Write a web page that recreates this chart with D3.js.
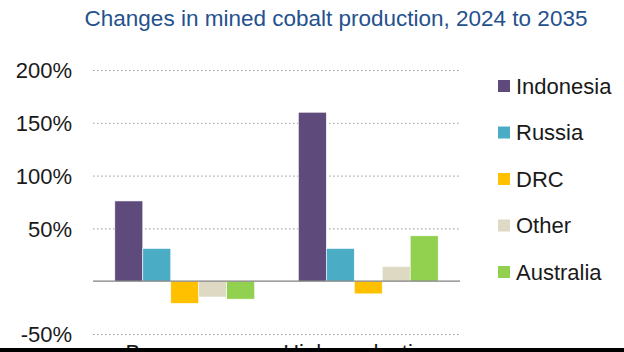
<!DOCTYPE html>
<html>
<head>
<meta charset="utf-8">
<style>
body { margin: 0; background: #fff; }
svg { display: block; font-family: "Liberation Sans", Arial, sans-serif; }
.grid line { stroke: #9a9a9a; stroke-dasharray: 1.5 2.5; }
.axis-y text { font-size: 22px; fill: #1a1a1a; }
.legend text { font-size: 22px; fill: #1a1a1a; }
</style>
</head>
<body>

<svg id="chart" width="624" height="352"></svg>

<script src="https://d3js.org/d3.v7.min.js"></script>
<script>

var groups = ["Base case", "High production"];
var series = ["Indonesia", "Russia", "DRC", "Other", "Australia"];
var colors = ["#5e4a7b", "#4bacc6", "#ffc000", "#ddd9c3", "#92d050"];
var baseCase = [76, 31, -21, -15, -17];
var highProduction = [160, 31, -12, 14, 43];
var yTicks = [-50, 50, 100, 150, 200];

var values = [baseCase, highProduction];
var data = [];
groups.forEach(function(g, i) {
    series.forEach(function(s, j) {
        data.push({group: g, series: s, value: values[i][j]});
    });
});

var svg = d3.select("#chart");

// title
svg.append("text")
    .attr("x", 336)
    .attr("y", 26)
    .attr("text-anchor", "middle")
    .style("font-size", "22.5px")
    .style("fill", "#25518d")
    .text("Changes in mined cobalt production, 2024 to 2035");

var x0 = d3.scaleBand()
    .domain(groups)
    .range([93, 460])
    .padding(0);

var x1 = d3.scaleBand()
    .domain(series)
    .range([0, x0.bandwidth()])
    .paddingInner(0)
    .paddingOuter(0.78);

var y = d3.scaleLinear()
    .domain([-50, 200])
    .range([334, 70]);

var color = d3.scaleOrdinal().domain(series).range(colors);

// gridlines
svg.append("g")
    .attr("class", "grid")
    .selectAll("line")
    .data(yTicks)
    .enter()
    .append("line")
    .attr("x1", 93)
    .attr("x2", 460)
    .attr("y1", function(d) { return y(d) + 0.5; })
    .attr("y2", function(d) { return y(d) + 0.5; });

// y axis labels
var yAxis = svg.append("g")
    .attr("class", "axis-y")
    .attr("transform", "translate(80,0)")
    .call(d3.axisLeft(y).tickValues(yTicks).tickSize(0).tickPadding(8)
        .tickFormat(function(d) { return d + "%"; }));
yAxis.select(".domain").remove();
yAxis.selectAll("text").attr("dy", "0.35em");

// bars
svg.append("g")
    .selectAll("rect")
    .data(data)
    .enter()
    .append("rect")
    .attr("x", function(d) { return x0(d.group) + x1(d.series); })
    .attr("y", function(d) { return y(Math.max(0, d.value)); })
    .attr("width", x1.bandwidth())
    .attr("height", function(d) { return Math.abs(y(d.value) - y(0)); })
    .attr("fill", function(d) { return color(d.series); })
    .attr("stroke", "#fff")
    .attr("stroke-width", 0.6);

// zero line
svg.append("line")
    .attr("x1", 93)
    .attr("x2", 460)
    .attr("y1", y(0))
    .attr("y2", y(0))
    .attr("stroke", "#808080")
    .attr("stroke-width", 1.2);

// category labels (mostly cut off at the bottom)
svg.append("g")
    .selectAll("text")
    .data(groups)
    .enter()
    .append("text")
    .attr("x", function(d) { return x0(d) + x0.bandwidth() / 2 - 8; })
    .attr("y", 360)
    .attr("text-anchor", "middle")
    .style("font-size", "22px")
    .style("fill", "#1a1a1a")
    .text(function(d) { return d; });

// legend
var legend = svg.append("g")
    .attr("class", "legend")
    .selectAll("g")
    .data(series)
    .enter()
    .append("g")
    .attr("transform", function(d, i) { return "translate(498," + (86 + i * 46.5) + ")"; });

legend.append("rect")
    .attr("x", 0)
    .attr("y", -6)
    .attr("width", 12)
    .attr("height", 12)
    .attr("fill", function(d) { return color(d); });

legend.append("text")
    .attr("x", 18)
    .attr("y", 0)
    .attr("dy", "0.35em")
    .text(function(d) { return d; });

// dark strip along the bottom edge
svg.append("rect")
    .attr("x", 0)
    .attr("y", 348)
    .attr("width", 624)
    .attr("height", 4)
    .attr("fill", "#000");

</script>
</body>
</html>
